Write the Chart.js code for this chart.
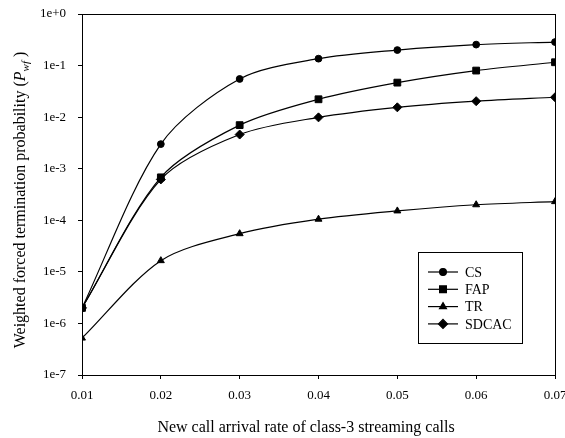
<!DOCTYPE html>
<html>
<head>
<meta charset="utf-8">
<script src="https://cdn.jsdelivr.net/npm/chart.js@4.4.1/dist/chart.umd.min.js"></script>
<style>
  html, body { margin: 0; padding: 0; background: #fff; }
  #wrap { width: 565px; height: 438px; }
</style>
</head>
<body>
<div id="wrap"><canvas id="myChart" width="565" height="438"></canvas></div>
<script>
// arrival rates (x) and P_wf per scheme
const rates = [0.01, 0.02, 0.03, 0.04, 0.05, 0.06, 0.07];
const cs    = [2e-6, 3.0e-3, 0.055, 0.136, 0.20, 0.255, 0.286];
const fap   = [2e-6, 6.8e-4, 0.0070, 0.0222, 0.0467, 0.080, 0.116];
const tr    = [5.2e-7, 1.65e-5, 5.5e-5, 1.05e-4, 1.52e-4, 2.0e-4, 2.3e-4];
const sdcac = [2e-6, 6.2e-4, 0.0046, 0.0099, 0.0155, 0.0204, 0.0243];
const yTicks = [1e-7, 1e-6, 1e-5, 1e-4, 1e-3, 1e-2, 1e-1, 1];
const yTickLabels = ['1e-7', '1e-6', '1e-5', '1e-4', '1e-3', '1e-2', '1e-1', '1e+0'];

const serif = '"Liberation Serif", "DejaVu Serif", serif';

function pts(vals) {
    return rates.map((r, i) => ({ x: r, y: vals[i] }));
}

function series(label, vals, style, radius) {
    return {
        label: label,
        data: pts(vals),
        borderColor: '#000',
        backgroundColor: '#000',
        borderWidth: 1.2,
        pointStyle: style,
        pointRadius: radius,
        pointHoverRadius: radius,
        pointBorderWidth: 1,
        tension: 0.3,
        fill: false
    };
}

// frame, y title with subscript, x title and the boxed legend
const decorations = {
    id: 'decorations',
    afterDraw(chart) {
        const ctx = chart.ctx;
        const a = chart.chartArea;
        ctx.save();
        ctx.strokeStyle = '#000';
        ctx.lineWidth = 1;
        ctx.strokeRect(a.left + 0.5, a.top + 0.5, a.right - a.left, a.bottom - a.top);

        // x title
        ctx.fillStyle = '#000';
        ctx.font = '16px ' + serif;
        ctx.textAlign = 'center';
        ctx.textBaseline = 'alphabetic';
        ctx.fillText('New call arrival rate of class-3 streaming calls', 306, 432);

        // y title, rotated
        ctx.save();
        ctx.translate(25, 200);
        ctx.rotate(-Math.PI / 2);
        const main = 'Weighted forced termination probability (';
        ctx.font = '16px ' + serif;
        const w1 = ctx.measureText(main).width;
        ctx.font = 'italic 16px ' + serif;
        const wP = ctx.measureText('P').width;
        ctx.font = 'italic 11px ' + serif;
        const wSub = ctx.measureText('wf').width;
        ctx.font = '16px ' + serif;
        const wEnd = ctx.measureText(' )').width;
        let x = -(w1 + wP + wSub + wEnd) / 2;
        ctx.textAlign = 'left';
        ctx.fillText(main, x, 0); x += w1;
        ctx.font = 'italic 16px ' + serif;
        ctx.fillText('P', x, 0); x += wP;
        ctx.font = 'italic 11px ' + serif;
        ctx.fillText('wf', x, 4); x += wSub;
        ctx.font = '16px ' + serif;
        ctx.fillText(' )', x, 0);
        ctx.restore();

        // legend
        const bx = 418, by = 252, bw = 104, bh = 91;
        ctx.fillStyle = '#fff';
        ctx.fillRect(bx, by, bw, bh);
        ctx.strokeRect(bx + 0.5, by + 0.5, bw, bh);
        chart.data.datasets.forEach((ds, i) => {
            const y = 272 + i * 17.3;
            ctx.strokeStyle = '#000';
            ctx.lineWidth = 1.2;
            ctx.beginPath();
            ctx.moveTo(428, y);
            ctx.lineTo(458, y);
            ctx.stroke();
            ctx.fillStyle = '#000';
            Chart.helpers.drawPoint(ctx, { pointStyle: ds.pointStyle, radius: ds.pointRadius, borderWidth: 1 }, 443, y);
            ctx.fillStyle = '#000';
            ctx.font = '14px ' + serif;
            ctx.textAlign = 'left';
            ctx.textBaseline = 'middle';
            ctx.fillText(ds.label, 465, y + 1);
        });
        ctx.restore();
    }
};

new Chart(document.getElementById('myChart'), {
    type: 'line',
    data: {
        datasets: [
            series('CS', cs, 'circle', 3.4),
            series('FAP', fap, 'rect', 4.8),
            series('TR', tr, 'triangle', 4),
            series('SDCAC', sdcac, 'rectRot', 4.5)
        ]
    },
    options: {
        responsive: false,
        animation: false,
        layout: { padding: { left: 0, right: 10, top: 14, bottom: 0 } },
        plugins: {
            legend: { display: false },
            tooltip: { enabled: false }
        },
        scales: {
            x: {
                type: 'linear',
                min: 0.01,
                max: 0.07,
                afterBuildTicks: (scale) => {
                    scale.ticks = rates.map(v => ({ value: v }));
                },
                afterFit: (scale) => {
                    scale.height = 63;
                    scale.paddingLeft = 0;
                    scale.paddingRight = 0;
                },
                grid: { drawOnChartArea: false, drawTicks: true, tickLength: 4, color: '#000' },
                border: { color: '#000', width: 1 },
                ticks: {
                    color: '#000',
                    font: { family: serif, size: 13 },
                    padding: 9,
                    maxRotation: 0,
                    autoSkip: false,
                    callback: (v) => v.toFixed(2)
                }
            },
            y: {
                type: 'logarithmic',
                min: 1e-7,
                max: 1,
                afterBuildTicks: (scale) => {
                    scale.ticks = yTicks.map(v => ({ value: v, major: true }));
                },
                afterFit: (scale) => {
                    scale.width = 82;
                    scale.paddingTop = 0;
                    scale.paddingBottom = 0;
                },
                grid: { drawOnChartArea: false, drawTicks: true, tickLength: 4, color: '#000' },
                border: { color: '#000', width: 1 },
                ticks: {
                    color: '#000',
                    font: { family: serif, size: 13 },
                    padding: 12,
                    autoSkip: false,
                    callback: (v) => {
                        const i = yTicks.findIndex(t => Math.abs(Math.log10(t) - Math.log10(v)) < 1e-6);
                        return i >= 0 ? yTickLabels[i] : '';
                    }
                }
            }
        }
    },
    plugins: [decorations]
});
</script>
</body>
</html>
